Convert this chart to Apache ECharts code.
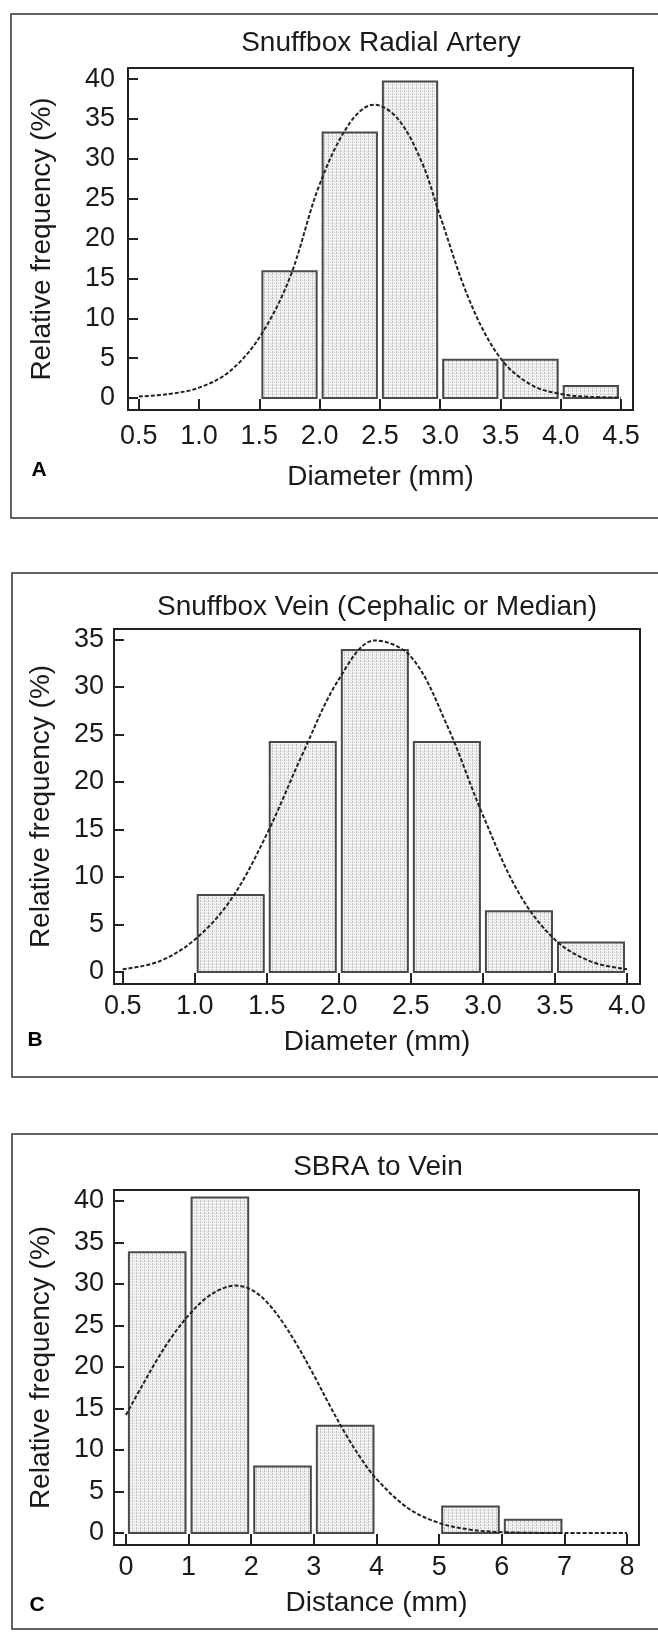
<!DOCTYPE html>
<html><head><meta charset="utf-8">
<script src="https://cdn.jsdelivr.net/npm/echarts@6/dist/echarts.min.js"></script>
<style>html,body{margin:0;padding:0;background:#fff}#c{width:658px;height:1633px}</style>
</head><body><div id="c"></div>
<script>
// ---------- Panel A : Snuffbox Radial Artery ----------
const aTitle = 'Snuffbox Radial Artery';
const aXName = 'Diameter (mm)';
const aBinLo = [1.5, 2.0, 2.5, 3.0, 3.5, 4.0];
const aBinHi = [2.0, 2.5, 3.0, 3.5, 4.0, 4.5];
const aFreq  = [15.9, 33.3, 39.7, 4.8, 4.8, 1.5];
const aCurveX = [0.5, 0.75, 1.0, 1.25, 1.5, 1.75, 2.0, 2.25, 2.45, 2.65, 2.85, 3.0, 3.25, 3.5, 3.75, 4.0, 4.25, 4.5];
const aCurveY = [0.2, 0.5, 1.3, 3.3, 7.6, 15.0, 26.8, 34.5, 36.8, 35.0, 29.5, 22.8, 12.0, 5.0, 1.7, 0.5, 0.15, 0.05];
const aXTicks = [0.5, 1.0, 1.5, 2.0, 2.5, 3.0, 3.5, 4.0, 4.5];
const aYTicks = [0, 5, 10, 15, 20, 25, 30, 35, 40];

// ---------- Panel B : Snuffbox Vein ----------
const bTitle = 'Snuffbox Vein (Cephalic or Median)';
const bXName = 'Diameter (mm)';
const bBinLo = [1.0, 1.5, 2.0, 2.5, 3.0, 3.5];
const bBinHi = [1.5, 2.0, 2.5, 3.0, 3.5, 4.0];
const bFreq  = [8.1, 24.2, 33.9, 24.2, 6.4, 3.1];
const bCurveX = [0.5, 0.75, 1.0, 1.25, 1.5, 1.75, 2.0, 2.25, 2.5, 2.75, 3.0, 3.25, 3.5, 3.75, 4.0];
const bCurveY = [0.3, 1.1, 3.4, 7.6, 14.5, 23.0, 30.8, 34.9, 33.2, 26.0, 16.5, 8.3, 3.4, 1.1, 0.3];
const bXTicks = [0.5, 1.0, 1.5, 2.0, 2.5, 3.0, 3.5, 4.0];
const bYTicks = [0, 5, 10, 15, 20, 25, 30, 35];

// ---------- Panel C : SBRA to Vein ----------
const cTitle = 'SBRA to Vein';
const cXName = 'Distance (mm)';
const cBinLo = [0, 1, 2, 3, 5, 6];
const cBinHi = [1, 2, 3, 4, 6, 7];
const cFreq  = [33.8, 40.4, 8.0, 12.9, 3.2, 1.6];
const cCurveX = [0, 0.25, 0.5, 0.75, 1.0, 1.25, 1.5, 1.75, 2.0, 2.25, 2.5, 2.75, 3.0, 3.25, 3.5, 3.75, 4.0, 4.5, 5.0, 5.5, 6.0, 7.0, 8.0];
const cCurveY = [14.2, 17.6, 20.9, 23.8, 26.2, 28.1, 29.3, 29.8, 29.3, 27.8, 25.4, 22.4, 19.0, 15.4, 12.0, 9.0, 6.5, 3.0, 1.2, 0.4, 0.1, 0.0, 0.0];
const cXTicks = [0, 1, 2, 3, 4, 5, 6, 7, 8];
const cYTicks = [0, 5, 10, 15, 20, 25, 30, 35, 40];

const yName = 'Relative frequency (%)';

// ---------- styling / layout ----------
const FONT = '"Liberation Sans", Arial, sans-serif';
const INK = '#1a1a1a';
const TICK_FS = 27, NAME_FS = 28, TITLE_FS = 28;

function makePattern() {
  const c = document.createElement('canvas');
  c.width = 4; c.height = 3;
  const g = c.getContext('2d');
  g.fillStyle = '#f2f2f2'; g.fillRect(0, 0, 4, 3);
  g.fillStyle = '#c0c0c0'; g.fillRect(0, 0, 1, 2);
  g.fillStyle = '#d8d8d8'; g.fillRect(2, 1, 1, 1);
  return c;
}
const pat = { image: makePattern(), repeat: 'repeat' };

const panels = [
  { title: aTitle, xName: aXName, lo: aBinLo, hi: aBinHi, f: aFreq, cx: aCurveX, cy: aCurveY, xt: aXTicks, yt: aYTicks,
    grid: { left: 128, top: 68, width: 505, height: 342 }, xr: [0.41, 4.6], yr: [-1.5, 41.4], dec: 1,
    xNameGap: 53, yNameGap: 72, xLabMargin: 13, yLabMargin: 13, titleXY: [381, 43], letter: 'A', letterXY: [39, 470],
    box: [11, 14, 700, 504] },
  { title: bTitle, xName: bXName, lo: bBinLo, hi: bBinHi, f: bFreq, cx: bCurveX, cy: bCurveY, xt: bXTicks, yt: bYTicks,
    grid: { left: 114, top: 629, width: 526, height: 355 }, xr: [0.44, 4.09], yr: [-1.26, 36.1], dec: 1,
    xNameGap: 44, yNameGap: 59, xLabMargin: 9, yLabMargin: 10, titleXY: [377, 607], letter: 'B', letterXY: [35, 1040],
    box: [12, 573, 700, 504] },
  { title: cTitle, xName: cXName, lo: cBinLo, hi: cBinHi, f: cFreq, cx: cCurveX, cy: cCurveY, xt: cXTicks, yt: cYTicks,
    grid: { left: 114, top: 1190, width: 525, height: 355 }, xr: [-0.19, 8.19], yr: [-1.45, 41.3], dec: 0,
    xNameGap: 44, yNameGap: 59, xLabMargin: 9, yLabMargin: 10, titleXY: [378, 1167], letter: 'C', letterXY: [37, 1605],
    box: [12, 1134, 700, 495] }
];

const grids = [], xAxes = [], yAxes = [], series = [], graphics = [];
panels.forEach((p, i) => {
  grids.push(Object.assign({ show: true, borderColor: '#222', borderWidth: 2, backgroundColor: 'transparent', containLabel: false }, p.grid));
  xAxes.push({
    type: 'value', gridIndex: i, min: p.xr[0], max: p.xr[1], position: 'bottom',
    name: p.xName, nameLocation: 'middle', nameGap: p.xNameGap,
    nameTextStyle: { fontFamily: FONT, fontSize: NAME_FS, color: INK },
    axisLine: { show: true, onZero: false, lineStyle: { color: '#222', width: 2 } },
    axisTick: { show: true, inside: true, length: 11, customValues: p.xt, lineStyle: { color: '#222', width: 2 } },
    axisLabel: { show: true, margin: p.xLabMargin, customValues: p.xt, fontFamily: FONT, fontSize: TICK_FS, color: INK,
      formatter: v => Number(v).toFixed(p.dec) },
    splitLine: { show: false }
  });
  yAxes.push({
    type: 'value', gridIndex: i, min: p.yr[0], max: p.yr[1], position: 'left',
    name: yName, nameLocation: 'middle', nameGap: p.yNameGap,
    nameTextStyle: { fontFamily: FONT, fontSize: NAME_FS, color: INK },
    axisLine: { show: true, onZero: false, lineStyle: { color: '#222', width: 2 } },
    axisTick: { show: true, inside: true, length: 10, customValues: p.yt, lineStyle: { color: '#222', width: 2 } },
    axisLabel: { show: true, margin: p.yLabMargin, customValues: p.yt, fontFamily: FONT, fontSize: TICK_FS, color: INK,
      formatter: v => String(Math.round(v)) },
    splitLine: { show: false }
  });
  series.push({
    type: 'custom', xAxisIndex: i, yAxisIndex: i, z: 2, silent: true,
    data: p.lo.map((l, k) => [l, p.hi[k], p.f[k]]),
    encode: { x: [0, 1], y: 2 },
    renderItem: (params, api) => {
      const a = api.coord([api.value(0), api.value(2)]);
      const b = api.coord([api.value(1), 0]);
      const inset = 3;
      return { type: 'rect',
        shape: { x: a[0] + inset, y: a[1], width: b[0] - a[0] - 2 * inset, height: b[1] - a[1] },
        style: { fill: pat, stroke: '#4a4a4a', lineWidth: 2 } };
    }
  });
  series.push({
    type: 'line', xAxisIndex: i, yAxisIndex: i, z: 3, silent: true,
    data: p.cx.map((x, k) => [x, p.cy[k]]),
    smooth: 0.35, showSymbol: false, symbol: 'none',
    lineStyle: { color: '#222', width: 2, type: [4, 2] }
  });
  graphics.push({ type: 'rect', silent: true, shape: { x: p.box[0], y: p.box[1], width: p.box[2], height: p.box[3] },
    style: { fill: 'none', stroke: '#333', lineWidth: 1.5 } });
  graphics.push({ type: 'text', silent: true, x: p.titleXY[0], y: p.titleXY[1],
    style: { text: p.title, fontFamily: FONT, fontSize: TITLE_FS, fill: INK, align: 'center', verticalAlign: 'middle' } });
  graphics.push({ type: 'text', silent: true, x: p.letterXY[0], y: p.letterXY[1],
    style: { text: p.letter, fontFamily: FONT, fontSize: 21, fontWeight: 'bold', fill: '#000', align: 'center', verticalAlign: 'middle' } });
});

const chart = echarts.init(document.getElementById('c'), null, { renderer: 'canvas' });
chart.setOption({
  animation: false,
  backgroundColor: '#fff',
  grid: grids, xAxis: xAxes, yAxis: yAxes, series: series,
  graphic: { elements: graphics }
});
</script>
</body></html>
